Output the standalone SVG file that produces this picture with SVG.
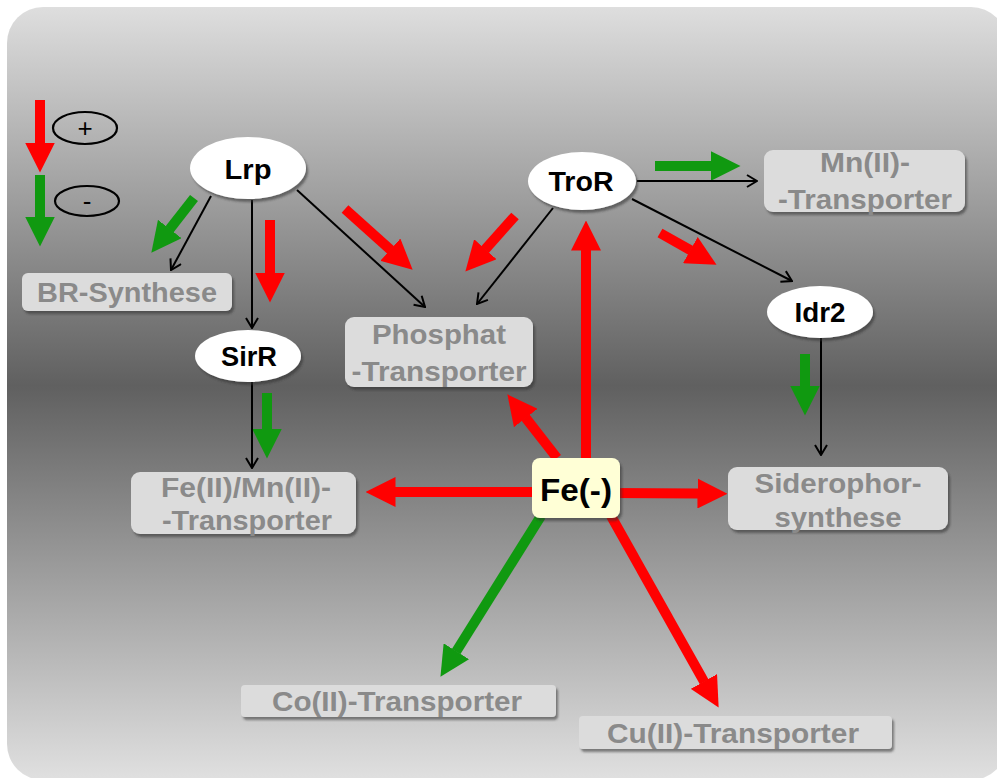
<svg xmlns="http://www.w3.org/2000/svg" width="997" height="778" viewBox="0 0 997 778">
<defs>
<linearGradient id="bg" x1="0" y1="7" x2="0" y2="780" gradientUnits="userSpaceOnUse">
<stop offset="0" stop-color="#dedede"/>
<stop offset="0.49" stop-color="#606060"/>
<stop offset="1" stop-color="#e0e0e0"/>
</linearGradient>
<filter id="sh" x="-10%" y="-10%" width="130%" height="140%">
<feDropShadow dx="2" dy="3" stdDeviation="1.2" flood-color="#303030" flood-opacity="0.55"/>
</filter>
<marker id="hr" markerUnits="strokeWidth" viewBox="0 0 3 3" markerWidth="3" markerHeight="3" refX="0.05" refY="1.5" orient="auto">
<path d="M0,0 L3,1.5 L0,3 z" fill="#ff0000"/>
</marker>
<marker id="hg" markerUnits="strokeWidth" viewBox="0 0 3 3" markerWidth="3" markerHeight="3" refX="0.05" refY="1.5" orient="auto">
<path d="M0,0 L3,1.5 L0,3 z" fill="#109910"/>
</marker>
<marker id="hb" markerUnits="userSpaceOnUse" viewBox="-1 -1 12 14" markerWidth="12" markerHeight="14" refX="10" refY="6" orient="auto">
<path d="M0,0 L10,6 L0,12" fill="none" stroke="#000" stroke-width="2"/>
</marker>
</defs>
<style>
.red{stroke:#ff0000;stroke-width:10;fill:none;marker-end:url(#hr)}
.grn{stroke:#109910;stroke-width:10;fill:none;marker-end:url(#hg)}
.blk{stroke:#000;stroke-width:2;fill:none;marker-end:url(#hb)}
.box{fill:#dcdcdc;filter:url(#sh)}
.ell{fill:#ffffff;filter:url(#sh)}
.gt{font-family:"Liberation Sans",Arial,sans-serif;font-weight:bold;font-size:27px;fill:#8a8a8a;text-anchor:middle}
.nt{font-family:"Liberation Sans",Arial,sans-serif;font-weight:bold;font-size:27px;fill:#000;text-anchor:middle}
.lt{font-family:"Liberation Sans",Arial,sans-serif;font-size:26px;fill:#000;text-anchor:middle}
</style>
<rect x="0" y="0" width="997" height="778" fill="#ffffff"/>
<rect x="7" y="7" width="1000" height="773" rx="36" fill="url(#bg)"/>

<g id="legend">
<line x1="40" y1="100" x2="40" y2="143" class="red"/>
<line x1="40" y1="175" x2="40" y2="217" class="grn"/>
<ellipse cx="85" cy="128" rx="32" ry="16" fill="none" stroke="#000" stroke-width="2.2"/>
<text x="85" y="137" class="lt">+</text>
<ellipse cx="87" cy="201" rx="32" ry="15" fill="none" stroke="#000" stroke-width="2.2"/>
<text x="87" y="210" class="lt">-</text>
</g>

<g id="connectors">
<line x1="586" y1="458" x2="586" y2="250" class="red"/>
<line x1="557" y1="458" x2="525.5" y2="417.6" class="red"/>
<line x1="540" y1="492" x2="395" y2="492" class="red"/>
<line x1="612" y1="493" x2="698" y2="493.5" class="red"/>
<line x1="541" y1="516" x2="456.1" y2="651.7" class="grn"/>
<line x1="611" y1="516" x2="704.2" y2="681.9" class="red"/>

<line x1="194" y1="198" x2="169.5" y2="229.4" class="grn"/>
<line x1="270" y1="220" x2="270" y2="273" class="red"/>
<line x1="345" y1="209" x2="390.7" y2="250" class="red"/>
<line x1="515" y1="216" x2="485" y2="249.6" class="red"/>
<line x1="655" y1="166" x2="711" y2="166" class="grn"/>
<line x1="660" y1="233" x2="690.8" y2="250.3" class="red"/>
<line x1="805" y1="354" x2="805" y2="386" class="grn"/>
<line x1="267" y1="393" x2="267" y2="429" class="grn"/>

<line x1="211" y1="196" x2="171" y2="270" class="blk"/>
<line x1="252" y1="200" x2="252" y2="328" class="blk"/>
<line x1="297" y1="190" x2="425" y2="307" class="blk"/>
<line x1="553" y1="208" x2="477" y2="304" class="blk"/>
<line x1="637" y1="181" x2="757" y2="181" class="blk"/>
<line x1="632" y1="199" x2="792" y2="281" class="blk"/>
<line x1="252" y1="382" x2="252" y2="468" class="blk"/>
<line x1="821" y1="338" x2="821" y2="455" class="blk"/>
</g>

<g id="Lrp">
<ellipse cx="248" cy="168" rx="58" ry="31" class="ell"/>
<text x="248" y="179" class="nt" textLength="47" lengthAdjust="spacingAndGlyphs">Lrp</text>
</g>
<g id="TroR">
<ellipse cx="582" cy="181" rx="54" ry="29" class="ell"/>
<text x="581" y="191" class="nt" textLength="65" lengthAdjust="spacingAndGlyphs">TroR</text>
</g>
<g id="SirR">
<ellipse cx="248" cy="356" rx="53" ry="26" class="ell"/>
<text x="249" y="366" class="nt" textLength="56" lengthAdjust="spacingAndGlyphs">SirR</text>
</g>
<g id="Idr2">
<ellipse cx="820" cy="312" rx="53" ry="26" class="ell"/>
<text x="820" y="322" class="nt" textLength="51" lengthAdjust="spacingAndGlyphs">Idr2</text>
</g>

<g id="BR-Synthese">
<rect x="22" y="273" width="210" height="38" rx="6" class="box"/>
<text x="127" y="302" class="gt" textLength="180" lengthAdjust="spacingAndGlyphs">BR-Synthese</text>
</g>
<g id="Phosphat-Transporter">
<rect x="345" y="317" width="188" height="70" rx="9" class="box"/>
<text x="439" y="344" class="gt" textLength="134" lengthAdjust="spacingAndGlyphs">Phosphat</text>
<text x="439" y="381" class="gt" textLength="175" lengthAdjust="spacingAndGlyphs">-Transporter</text>
</g>
<g id="Mn-Transporter">
<rect x="764" y="150" width="201" height="62" rx="9" class="box"/>
<text x="865" y="172" class="gt" textLength="90" lengthAdjust="spacingAndGlyphs">Mn(II)-</text>
<text x="865" y="209" class="gt" textLength="174" lengthAdjust="spacingAndGlyphs">-Transporter</text>
</g>
<g id="Siderophorsynthese">
<rect x="728" y="467" width="220" height="63" rx="9" class="box"/>
<text x="838" y="493" class="gt" textLength="167" lengthAdjust="spacingAndGlyphs">Siderophor-</text>
<text x="838" y="527" class="gt" textLength="127" lengthAdjust="spacingAndGlyphs">synthese</text>
</g>
<g id="FeMn-Transporter">
<rect x="131" y="472" width="225" height="62" rx="9" class="box"/>
<text x="246" y="497" class="gt" textLength="170" lengthAdjust="spacingAndGlyphs">Fe(II)/Mn(II)-</text>
<text x="247" y="530" class="gt" textLength="170" lengthAdjust="spacingAndGlyphs">-Transporter</text>
</g>
<g id="Co-Transporter">
<rect x="241" y="685" width="315" height="32" rx="4" class="box"/>
<text x="397" y="711" class="gt" textLength="250" lengthAdjust="spacingAndGlyphs">Co(II)-Transporter</text>
</g>
<g id="Cu-Transporter">
<rect x="579" y="716" width="313" height="33" rx="4" class="box"/>
<text x="733" y="743" class="gt" textLength="252" lengthAdjust="spacingAndGlyphs">Cu(II)-Transporter</text>
</g>
<g id="Fe">
<rect x="532" y="458" width="88" height="60" rx="8" fill="#ffffd6" filter="url(#sh)"/>
<text x="576" y="501" class="nt" style="font-size:32px" textLength="72" lengthAdjust="spacingAndGlyphs">Fe(-)</text>
</g>
</svg>
